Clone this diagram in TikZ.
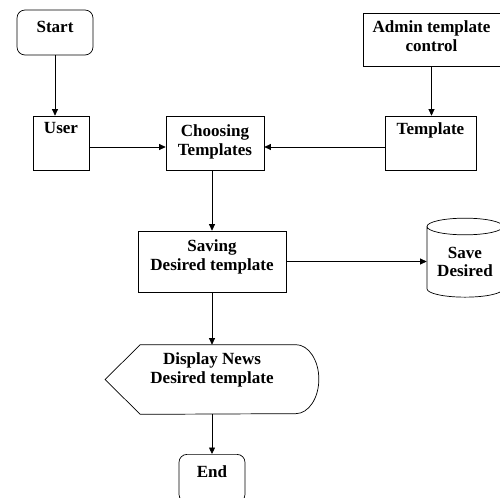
\documentclass[tikz,border=0pt]{standalone}
\usepackage{fontspec}
\setmainfont{Liberation Serif}
\usetikzlibrary{arrows.meta}
\usetikzlibrary{shapes.geometric}
\newcommand{\TopLines}[3]{\vbox to #1{\vskip#2\hbox{\begin{tabular}{@{}c@{}}#3\end{tabular}}\vfill}}

\begin{document}
\begin{tikzpicture}[
    x=0.02cm, y=-0.02cm,
    >={Triangle[length=1.3mm,width=1.2mm]},
    every node/.style={font=\bfseries\fontsize{9.7}{10.5}\selectfont},
    box/.style={draw, inner sep=0pt},
    term/.style={box, rounded corners=0.16cm},
    ]

    \useasboundingbox (0,0) rectangle (500,497);

    \node[term, minimum width=1.52cm] (start) at (55,32.5)
      {\TopLines{0.9cm}{0.2cm}{Start}};
    \node[box, minimum width=2.74cm] (admin) at (431.5,39.5)
      {\TopLines{1.06cm}{0.14cm}{Admin template\\control}};
    \node[box, minimum width=1.12cm] (user) at (61,143)
      {\TopLines{1.08cm}{0.1cm}{User}};
    \node[box, minimum width=1.96cm] (choose) at (215,143)
      {\TopLines{1.08cm}{0.16cm}{Choosing\\Templates}};
    \node[box, minimum width=1.82cm] (tmpl) at (430.5,143)
      {\TopLines{1.08cm}{0.12cm}{Template}};
    \node[box, minimum width=2.96cm] (saving) at (212,261.5)
      {\TopLines{1.22cm}{0.16cm}{Saving\\Desired template}};
    \node[draw, cylinder, shape border rotate=90, aspect=0.3,
      minimum width=1.52cm, minimum height=1.58cm, inner sep=0pt,
      align=center] (store) at (465,262) {Save\\Desired};
    \node[inner sep=0pt, minimum width=4.26cm] (disp) at (212,379.5)
      {\TopLines{1.38cm}{0.14cm}{Display News\\Desired template}};
    \node[term, minimum width=1.32cm, anchor=north] (end) at (212,454)
      {\TopLines{0.96cm}{0.2cm}{End}};

    % display shape
    \draw (disp.west) -- ([xshift=0.7cm]disp.north west)
      -- ([xshift=-0.46cm]disp.north east)
      arc[start angle=90, end angle=-90, x radius=0.46cm, y radius=0.69cm]
      -- ([xshift=0.7cm]disp.south west) -- cycle;

    \path[
    ->,
    ]
    (start)  edge (start |- user.north)
    (admin)  edge (admin |- tmpl.north)
    ([yshift=-0.08cm]user.east) edge ([yshift=-0.08cm]user.east -| choose.west)
    ([yshift=-0.08cm]tmpl.west) edge ([yshift=-0.08cm]tmpl.west -| choose.east)
    (choose.south -| saving) edge (saving.north)
    (saving) edge (saving -| store.west)
    (saving) edge (disp.north)
    (disp)   edge (end);

\end{tikzpicture}
\end{document}
